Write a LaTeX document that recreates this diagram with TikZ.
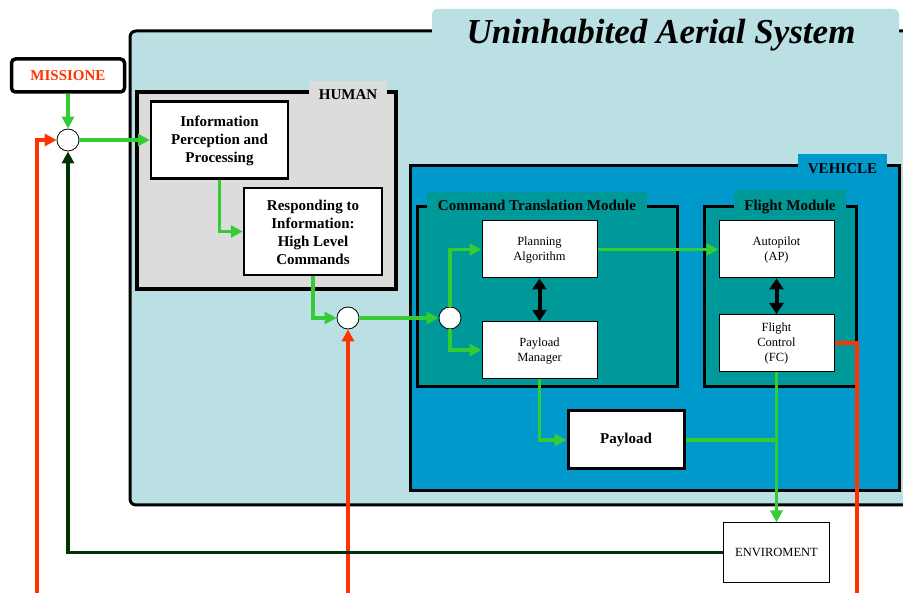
\documentclass[tikz,border=0pt]{standalone}
\usepackage{fontspec}
\setmainfont{Liberation Serif}
\usetikzlibrary{arrows.meta}

\definecolor{uaslight}{RGB}{186,224,227}
\definecolor{humangray}{RGB}{220,220,220}
\definecolor{vehblue}{RGB}{0,153,204}
\definecolor{modteal}{RGB}{0,153,153}
\definecolor{flowgreen}{RGB}{51,204,51}
\definecolor{feedorange}{RGB}{255,51,0}
\definecolor{envgreen}{RGB}{0,51,0}

\tikzset{
  bigbox/.style={draw, fill=white, line width=2.5pt, align=center, inner sep=0pt,
    font=\fontsize{15}{18}\selectfont\bfseries},
  smallbox/.style={draw, fill=white, line width=1pt, align=center, inner sep=0pt,
    minimum width=115pt, minimum height=57pt, font=\fontsize{12.5}{15}\selectfont},
  tab/.style={inner sep=0pt, text height=10pt, text depth=0pt,
    font=\fontsize{15}{18}\selectfont\bfseries},
  junction/.style={circle, draw, fill=white, line width=0.8pt, minimum size=22pt, inner sep=0pt},
  tip/.style={-{Triangle[length=12pt,width=12pt]}},
  gline/.style={draw=flowgreen, line width=3.5pt},
  oline/.style={draw=feedorange, line width=3.5pt},
  eline/.style={draw=envgreen, line width=3.5pt},
  bothway/.style={line width=4pt, {Triangle[length=11pt,width=14pt]}-{Triangle[length=11pt,width=14pt]}}
}

\begin{document}
\begin{tikzpicture}[x=1pt, y=-1pt]
\useasboundingbox (0,0) rectangle (903,593);

% containers
\draw[fill=uaslight, line width=3pt, rounded corners=6pt] (130,31) rectangle (920,505);
\fill[uaslight, rounded corners=5pt] (432,9) rectangle (899,45);
\node[font=\fontsize{35}{40}\selectfont\bfseries\itshape, text height=23pt, text depth=0pt, inner sep=0pt]
  (uastitle) at (661,32) {Uninhabited Aerial System};

\draw[fill=humangray, line width=3.5pt] (137,92) rectangle (396,289);
\node[tab, fill=humangray, minimum width=78pt, minimum height=27pt] (humantab) at (348,94.5) {HUMAN};

\draw[fill=vehblue, line width=3pt] (410,166) rectangle (899,491);
\node[tab, fill=vehblue, minimum width=89pt, minimum height=29pt] (vehtab) at (842.5,168.5) {VEHICLE};

\draw[fill=modteal, line width=3pt] (417,207) rectangle (677,387);
\node[tab, fill=modteal, minimum width=220pt, minimum height=28pt] (ctmtab) at (537,206) {Command Translation Module};
\draw[fill=modteal, line width=3pt] (704,207) rectangle (856,387);
\node[tab, fill=modteal, minimum width=112pt, minimum height=32pt] (fmtab) at (790,206) {Flight Module};

% blocks
\node[bigbox, line width=3.5pt, rounded corners=4pt, minimum width=113pt, minimum height=33pt,
  text=feedorange] (mission) at (68,75.5) {MISSIONE};
\node[bigbox, minimum width=137pt, minimum height=77pt] (info) at (219.5,140) {\strut Information\\Perception and\\Processing};
\node[bigbox, minimum width=138pt, minimum height=87pt] (resp) at (313,231.5) {\strut Responding to\\Information:\\High Level\\Commands};
\node[smallbox] (plan) at (539.5,249.5) {\strut Planning\\Algorithm};
\node[smallbox] (manager) at (539.5,350) {\strut Payload\\Manager};
\node[smallbox] (autopilot) at (776.5,249.5) {\strut Autopilot\\(AP)};
\node[smallbox] (control) at (776.5,343) {\strut Flight\\Control\\(FC)};
\node[bigbox, line width=3pt, minimum width=116pt, minimum height=58pt] (payload) at (626,440) {Payload};
\node[smallbox, minimum width=106pt, minimum height=59pt] (env) at (776.5,552.5) {ENVIROMENT};

\node[junction] (sum1) at (68,140) {};
\node[junction] (sum2) at (348,318) {};
\node[junction] (sum3) at (450,318) {};

\coordinate (feed1) at (37,600);
\coordinate (feed2) at (348,600);
\coordinate (feed3) at (857,600);

% connectors
\draw[gline, tip] (mission) -- (sum1);
\draw[gline, tip] (sum1) -- (info);
\draw[gline, tip] (info.south) |- (resp.west);
\draw[gline, tip] (resp.south) |- (sum2.west);
\draw[gline, tip] (sum2) -- (sum3);
\draw[gline, tip] (sum3.north) |- (plan.west);
\draw[gline, tip] (sum3.south) |- (manager.west);
\draw[gline, tip] (plan) -- (autopilot);
\draw[gline, tip] (manager.south) |- (payload.west);
\draw[gline] (payload.east) -- (payload.east -| control.south);
\draw[gline, tip] (control.south) -- (env.north);
\draw[bothway] (plan) -- (manager);
\draw[bothway] (autopilot) -- (control);

\draw[oline, tip] (feed1) |- (sum1.west);
\draw[oline, tip] (feed2) -- (sum2.south);
\draw[oline] (control.east) -| (feed3);
\draw[eline, tip] (env.west) -| (sum1.south);
\end{tikzpicture}
\end{document}
